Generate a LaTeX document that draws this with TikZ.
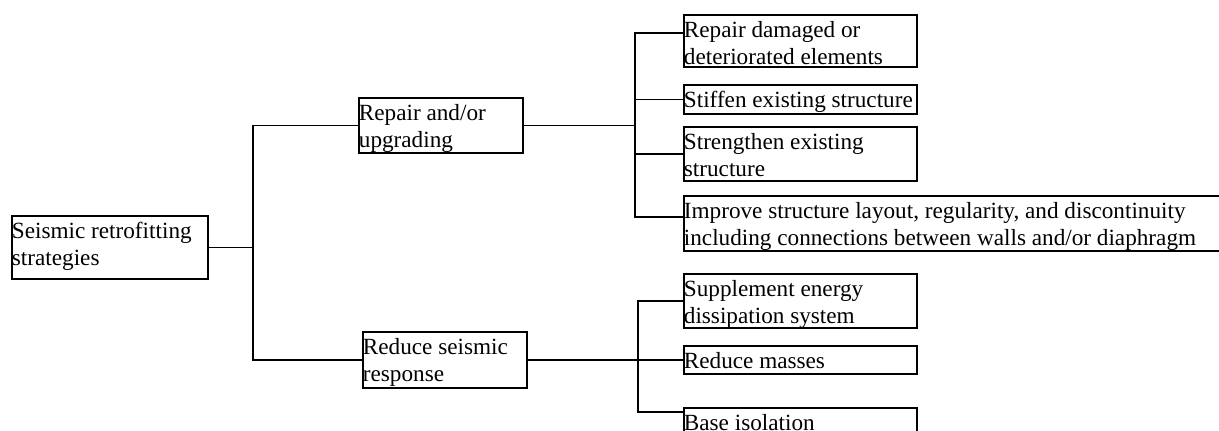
\documentclass[tikz,border=0pt]{standalone}
\usepackage{fontspec}
\setmainfont{Liberation Serif}
\usetikzlibrary{calc}
\newcommand{\boxtxt}[3]{\parbox[c][#2][t]{#1}{\raggedright\rule{0pt}{11.5pt}#3}}
\tikzset{
	box/.style={draw,line width=0.9pt,inner sep=0pt,anchor=north west,font=\fontsize{11.6pt}{13.5pt}\selectfont},
	link/.style={line width=0.9pt}
}
\begin{document}
\begin{tikzpicture}[x=0.5pt,y=-0.5pt]
		\useasboundingbox (0,0) rectangle (1219,430);
		\node[box] (root) at (11, 215) {\boxtxt{98pt}{31.5pt}{Seismic retrofitting\\strategies}};
		\node[box] (upg) at (358, 97) {\boxtxt{82pt}{27.5pt}{Repair and/or\\upgrading}};
		\node[box] (red) at (362, 331) {\boxtxt{82pt}{28pt}{Reduce seismic\\response}};
		
		\node[box] (l1) at (683, 14) {\boxtxt{116.5pt}{26pt}{Repair damaged or\\deteriorated elements}};
		\node[box] (l2) at (683, 84) {\boxtxt{116.5pt}{14.5pt}{Stiffen existing structure}};
		\node[box] (l3) at (683, 126) {\boxtxt{116.5pt}{27pt}{Strengthen existing\\structure}};
		\node[box] (l4) at (683, 195) {\boxtxt{280pt}{27.5pt}{Improve structure layout, regularity, and discontinuity\\including connections between walls and/or diaphragm}};
		\node[box] (l5) at (683, 273) {\boxtxt{116.5pt}{27pt}{Supplement energy\\dissipation system}};
		\node[box] (l6) at (683, 345) {\boxtxt{116.5pt}{14pt}{Reduce masses}};
		\node[box] (l7) at (683, 407) {\boxtxt{116.5pt}{26.5pt}{Base isolation}};
		
		\draw[link] (root.east) -- ++(44,0) coordinate (j0);
		\draw[link] (j0) |- (upg.west);
		\draw[link] (j0) |- (red.west);
		
		\draw[link] (upg.east) -- ++(111,0) coordinate (j1);
		\draw[link] (j1) |- ($(l1.north west)+(0,19)$);
		\draw[link] (j1) |- (l2.west);
		\draw[link] (j1) |- (l3.west);
		\draw[link] (j1) |- ($(l4.north west)+(0,22)$);
		
		\draw[link] (red.east) -- ++(110,0) coordinate (j2);
		\draw[link] (j2) |- (l5.west);
		\draw[link] (j2) |- (l6.west);
		\draw[link] (j2) |- ($(l7.north west)+(0,5)$);
\end{tikzpicture}
\end{document}
